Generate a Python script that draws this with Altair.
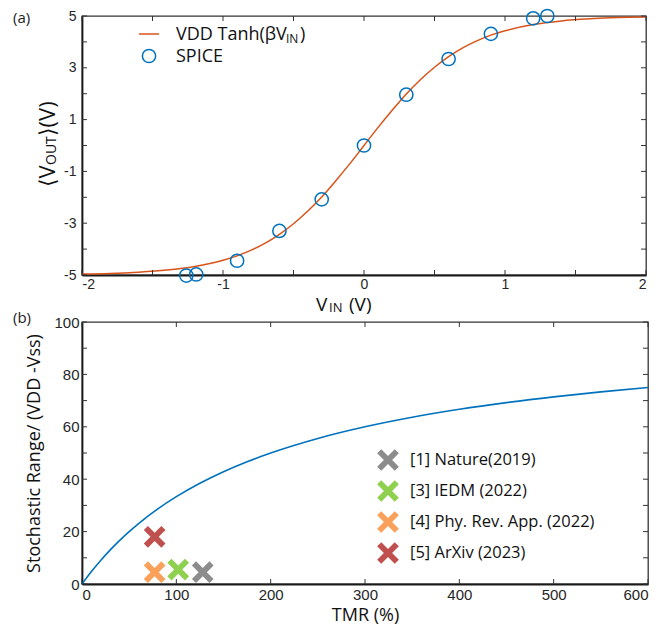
import altair as alt
import pandas as pd

# ---------------- data ----------------
# panel (a): VDD*tanh(beta*VIN) curve
vin_curve = [-2.0, -1.8, -1.6, -1.4, -1.2, -1.0, -0.9, -0.8, -0.7, -0.6, -0.5, -0.4, -0.3, -0.2, -0.1,
             0.0, 0.1, 0.2, 0.3, 0.4, 0.5, 0.6, 0.7, 0.8, 0.9, 1.0, 1.2, 1.4, 1.6, 1.8, 2.0]
vout_curve = [-4.96, -4.94, -4.89, -4.81, -4.67, -4.43, -4.26, -4.04, -3.77, -3.43, -3.02, -2.54, -1.99, -1.36, -0.70,
              0.0, 0.70, 1.36, 1.99, 2.54, 3.02, 3.43, 3.77, 4.04, 4.26, 4.43, 4.67, 4.81, 4.89, 4.94, 4.96]
# panel (a): SPICE points
vin_spice = [-1.26, -1.19, -0.9, -0.6, -0.3, 0.0, 0.3, 0.6, 0.9, 1.2, 1.3]
vout_spice = [-5.02, -4.98, -4.45, -3.30, -2.08, 0.0, 1.96, 3.34, 4.31, 4.91, 5.0]

# panel (b): stochastic range vs TMR
tmr_curve = [0, 10, 20, 30, 40, 50, 60, 80, 100, 125, 150, 175, 200, 250, 300, 350, 400, 450, 500, 550, 600]
range_curve = [0, 4.76, 9.09, 13.04, 16.67, 20.0, 23.08, 28.57, 33.33, 38.46, 42.86, 46.67, 50.0, 55.56,
               60.0, 63.64, 66.67, 69.23, 71.43, 73.33, 75.0]
ref_labels = ["[1] Nature(2019)", "[3] IEDM (2022)", "[4] Phy. Rev. App. (2022)", "[5] ArXiv (2023)"]
ref_tmr = [128, 102, 77, 77]
ref_range = [4.5, 5.5, 4.5, 18.0]
ref_colors = ["#8c8c8c", "#8fd14f", "#f9a05b", "#c0504d"]

# ticks
a_xticks = [-2, -1.5, -1, -0.5, 0, 0.5, 1, 1.5, 2]
a_xlabels = [-2, -1, 0, 1, 2]
a_yticks = [-5, -4, -3, -2, -1, 0, 1, 2, 3, 4, 5]
a_ylabels = [-5, -3, -1, 1, 3, 5]
b_xticks = [0, 100, 200, 300, 400, 500, 600]
b_yticks = [0, 10, 20, 30, 40, 50, 60, 70, 80, 90, 100]
b_ylabels = [0, 20, 40, 60, 80, 100]

# ---------------- styling ----------------
W1, H1 = 564, 259
W2, H2 = 566, 262
GAP = 47
TICK = 5
TXT = "Open Sans, DejaVu Sans"
NUM = "Liberation Sans"
XPATH = "M-1,-0.62L-0.62,-1L0,-0.38L0.62,-1L1,-0.62L0.38,0L1,0.62L0.62,1L0,0.38L-0.62,1L-1,0.62L-0.38,0Z"


def note(text, x, y, size, angle=0, align="left", baseline="middle", color="#111"):
    return alt.Chart(alt.Data(values=[{"t": text}])).mark_text(
        text=text, font=TXT, fontSize=size, angle=angle, align=align,
        baseline=baseline, color=color
    ).encode(x=alt.value(x), y=alt.value(y))


# ---------------- panel (a) ----------------
xs1 = alt.Scale(domain=[-2, 2], nice=False, zero=False)
ys1 = alt.Scale(domain=[-5, 5], nice=False, zero=False)
xax1 = alt.Axis(values=a_xlabels, title=None, ticks=False, tickSize=0, grid=False,
                labelPadding=2, labelFontSize=14, labelExpr="'' + datum.value")
yax1 = alt.Axis(values=a_ylabels, title=None, ticks=False, tickSize=0, grid=False,
                labelPadding=6, labelFontSize=14, labelExpr="'' + datum.value")
X1 = alt.X("vin:Q", scale=xs1, axis=xax1)
Y1 = alt.Y("vout:Q", scale=ys1, axis=yax1)

df_curve1 = pd.DataFrame({"vin": vin_curve, "vout": vout_curve})
df_spice = pd.DataFrame({"vin": vin_spice, "vout": vout_spice})
df_a_xt = pd.DataFrame({"vin": a_xticks})
df_a_yt = pd.DataFrame({"vout": a_yticks})

line1 = alt.Chart(df_curve1).mark_line(color="#D95319", strokeWidth=1.5, interpolate="monotone").encode(x=X1, y=Y1)
pts1 = alt.Chart(df_spice).mark_point(shape="circle", size=175, color="#0072BD", strokeWidth=1.5,
                                      filled=False, opacity=1).encode(x=X1, y=Y1)
tk = dict(color="#333", strokeWidth=1)
a_tb = alt.Chart(df_a_xt).mark_rule(**tk).encode(x=X1, y=alt.value(H1), y2=alt.value(H1 - TICK))
a_tt = alt.Chart(df_a_xt).mark_rule(**tk).encode(x=X1, y=alt.value(0), y2=alt.value(TICK))
a_tl = alt.Chart(df_a_yt).mark_rule(**tk).encode(y=Y1, x=alt.value(0), x2=alt.value(TICK))
a_tr = alt.Chart(df_a_yt).mark_rule(**tk).encode(y=Y1, x=alt.value(W1 - TICK), x2=alt.value(W1))

one = alt.Data(values=[{"k": 1}])
leg_line = alt.Chart(one).mark_rule(color="#D95319", strokeWidth=1.5).encode(
    x=alt.value(57), x2=alt.value(77), y=alt.value(18))
leg_circ = alt.Chart(one).mark_point(shape="circle", size=175, color="#0072BD", strokeWidth=1.5,
                                     filled=False, opacity=1).encode(x=alt.value(67), y=alt.value(40))

a_notes = [
    note("VDD Tanh(\u03b2V", 94, 24, 18, baseline="alphabetic"),
    note("IN", 204, 27, 12, baseline="alphabetic"),
    note(")", 218, 24, 18, baseline="alphabetic"),
    note("SPICE", 94, 46, 18, baseline="alphabetic"),
    # x title  V_IN (V)
    note("V", 234, 295, 19, baseline="alphabetic"),
    note("IN", 247, 296, 13, baseline="alphabetic"),
    note("(V)", 267, 295, 19, baseline="alphabetic"),
    # y title <V_OUT>(V)
    note("\u27e8V", -27, 171, 22, angle=270, baseline="alphabetic"),
    note("OUT", -26, 149, 14, angle=270, baseline="alphabetic"),
    note("\u27e9(V)", -27, 120, 22, angle=270, baseline="alphabetic"),
    note("(a)", -69, 2, 15, color="#222"),
]

panel_a = alt.layer(line1, pts1, a_tb, a_tt, a_tl, a_tr, leg_line, leg_circ, *a_notes).properties(
    width=W1, height=H1)

# ---------------- panel (b) ----------------
xs2 = alt.Scale(domain=[0, 600], nice=False, zero=False)
ys2 = alt.Scale(domain=[0, 100], nice=False, zero=False)
xax2 = alt.Axis(values=b_xticks, title="TMR (%)", ticks=False, tickSize=0, grid=False,
                labelPadding=3, labelFontSize=15, titleFont=TXT, titleFontSize=18,
                titleFontWeight="normal", titleColor="#111", titlePadding=4)
yax2 = alt.Axis(values=b_ylabels, title="Stochastic Range/ (VDD -Vss)", ticks=False, tickSize=0, grid=False,
                labelPadding=3, labelFontSize=15, titleFont=TXT, titleFontSize=18,
                titleFontWeight="normal", titleColor="#111", titlePadding=10)
X2 = alt.X("tmr:Q", scale=xs2, axis=xax2)
Y2 = alt.Y("rng:Q", scale=ys2, axis=yax2)

df_curve2 = pd.DataFrame({"tmr": tmr_curve, "rng": range_curve})
df_refs = pd.DataFrame({"tmr": ref_tmr, "rng": ref_range, "ref": ref_labels})
df_b_xt = pd.DataFrame({"tmr": b_xticks})
df_b_yt = pd.DataFrame({"rng": b_yticks})

line2 = alt.Chart(df_curve2).mark_line(color="#0072BD", strokeWidth=1.6, interpolate="monotone").encode(x=X2, y=Y2)
pts2 = alt.Chart(df_refs).mark_point(shape=XPATH, size=470, filled=True, opacity=1, strokeWidth=0).encode(
    x=X2, y=Y2,
    color=alt.Color("ref:N", scale=alt.Scale(domain=ref_labels, range=ref_colors),
                    legend=alt.Legend(title=None, orient="none", legendX=295, legendY=127 + H1 + GAP,
                                      symbolType=XPATH, symbolSize=470, symbolStrokeWidth=0,
                                      symbolOpacity=1, labelFont=TXT, labelFontSize=16.5, labelLimit=400,
                                      labelColor="#111", labelOffset=11, rowPadding=9)))
b_tb = alt.Chart(df_b_xt).mark_rule(**tk).encode(x=X2, y=alt.value(H2), y2=alt.value(H2 - TICK))
b_tt = alt.Chart(df_b_xt).mark_rule(**tk).encode(x=X2, y=alt.value(0), y2=alt.value(TICK))
b_tl = alt.Chart(df_b_yt).mark_rule(**tk).encode(y=Y2, x=alt.value(0), x2=alt.value(TICK))
b_tr = alt.Chart(df_b_yt).mark_rule(**tk).encode(y=Y2, x=alt.value(W2 - TICK), x2=alt.value(W2))

panel_b = alt.layer(line2, pts2, b_tb, b_tt, b_tl, b_tr, note("(b)", -69, -4, 15, color="#222")).properties(
    width=W2, height=H2)

chart = alt.vconcat(panel_a, panel_b, spacing=GAP, bounds="flush").properties(
    padding={"left": 4, "top": -3, "right": 5, "bottom": 5}
).configure_view(stroke="#333", strokeWidth=1.3).configure_axis(
    labelFont=NUM, labelColor="#262626", domainColor="#1a1a1a", domainWidth=1.8
)

chart.save("out.html", embed_options={"renderer": "svg", "actions": False})
